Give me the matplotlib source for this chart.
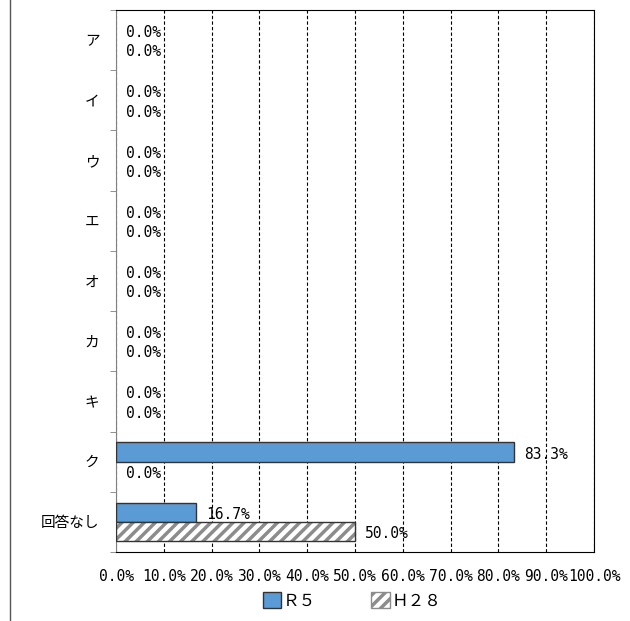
import matplotlib.pyplot as plt
from matplotlib.lines import Line2D
from matplotlib.patches import Patch
import numpy as np

plt.rcParams['font.family'] = ['Noto Sans CJK JP', 'DejaVu Sans']
plt.rcParams['hatch.linewidth'] = 2.5

# data
categories = ['ア', 'イ', 'ウ', 'エ', 'オ', 'カ', 'キ', 'ク', '回答なし']
r5 = [0.0, 0.0, 0.0, 0.0, 0.0, 0.0, 0.0, 83.3, 16.7]
h28 = [0.0, 0.0, 0.0, 0.0, 0.0, 0.0, 0.0, 0.0, 50.0]
x_ticks = [0, 10, 20, 30, 40, 50, 60, 70, 80, 90, 100]

blue = '#5B9BD5'
bar_h = 0.32
num_font = 'DejaVu Sans Mono'

fig = plt.figure(figsize=(6.3, 6.21), dpi=100)
ax = fig.add_axes([116 / 630, 1 - 552 / 621, (594 - 116) / 630, (552 - 10) / 621])

y = np.arange(len(categories))
y_r5 = y - bar_h / 2
y_h28 = y + bar_h / 2

ax.barh(y_r5, r5, height=bar_h, color=blue, edgecolor='#333333',
        linewidth=[1 if v else 0 for v in r5], zorder=3)
# hatched bars: gray hatch first, then dark outline on top
ax.barh(y_h28, h28, height=bar_h, color='white', edgecolor='#8c8c8c', hatch='///', linewidth=0, zorder=3)
ax.barh(y_h28, h28, height=bar_h, fill=False, edgecolor='#333333',
        linewidth=[1 if v else 0 for v in h28], zorder=4)

for yy, v in zip(y_r5, r5):
    ax.annotate(f'{v:.1f}%', (v, yy), xytext=(7.5, -1.5), textcoords='offset points',
                va='center', ha='left', fontsize=10.5, family=num_font, zorder=5)
for yy, v in zip(y_h28, h28):
    ax.annotate(f'{v:.1f}%', (v, yy), xytext=(7.5, -1.5), textcoords='offset points',
                va='center', ha='left', fontsize=10.5, family=num_font, zorder=5)

ax.set_xlim(0, 100)
ax.set_ylim(len(categories) - 0.5, -0.5)
ax.set_xticks(x_ticks)
ax.set_xticklabels([f'{t:.1f}%' for t in x_ticks], fontsize=10.5, family=num_font)
ax.tick_params(axis='x', length=0, pad=12)

ax.set_yticks(y)
ax.set_yticklabels(categories, fontsize=10.5)
ax.set_yticks(np.arange(len(categories) + 1) - 0.5, minor=True)
ax.tick_params(axis='y', which='major', length=0, pad=12)
ax.tick_params(axis='y', which='minor', length=4, color='#808080')

ax.xaxis.grid(True, linestyle=(0, (3, 2)), color='black', linewidth=0.8, zorder=0)
ax.set_axisbelow(True)
for s in ['top', 'right', 'bottom']:
    ax.spines[s].set_color('black')
ax.spines['left'].set_color('#808080')

handles = [Patch(facecolor=blue, edgecolor='#333333'),
           Patch(facecolor='white', edgecolor='#8c8c8c', hatch='///')]
fig.legend(handles, ['Ｒ５', 'Ｈ２８'], loc='center', bbox_to_anchor=(352 / 630, 1 - 601 / 621),
           ncol=2, frameon=False, fontsize=12, handlelength=1.1, handleheight=1.1,
           handletextpad=0.1, columnspacing=3.3)

# left frame line of the original sheet
fig.add_artist(Line2D([10 / 630, 10 / 630], [0, 1], color='#555555', linewidth=1))

fig.savefig('out.png', dpi=100)
